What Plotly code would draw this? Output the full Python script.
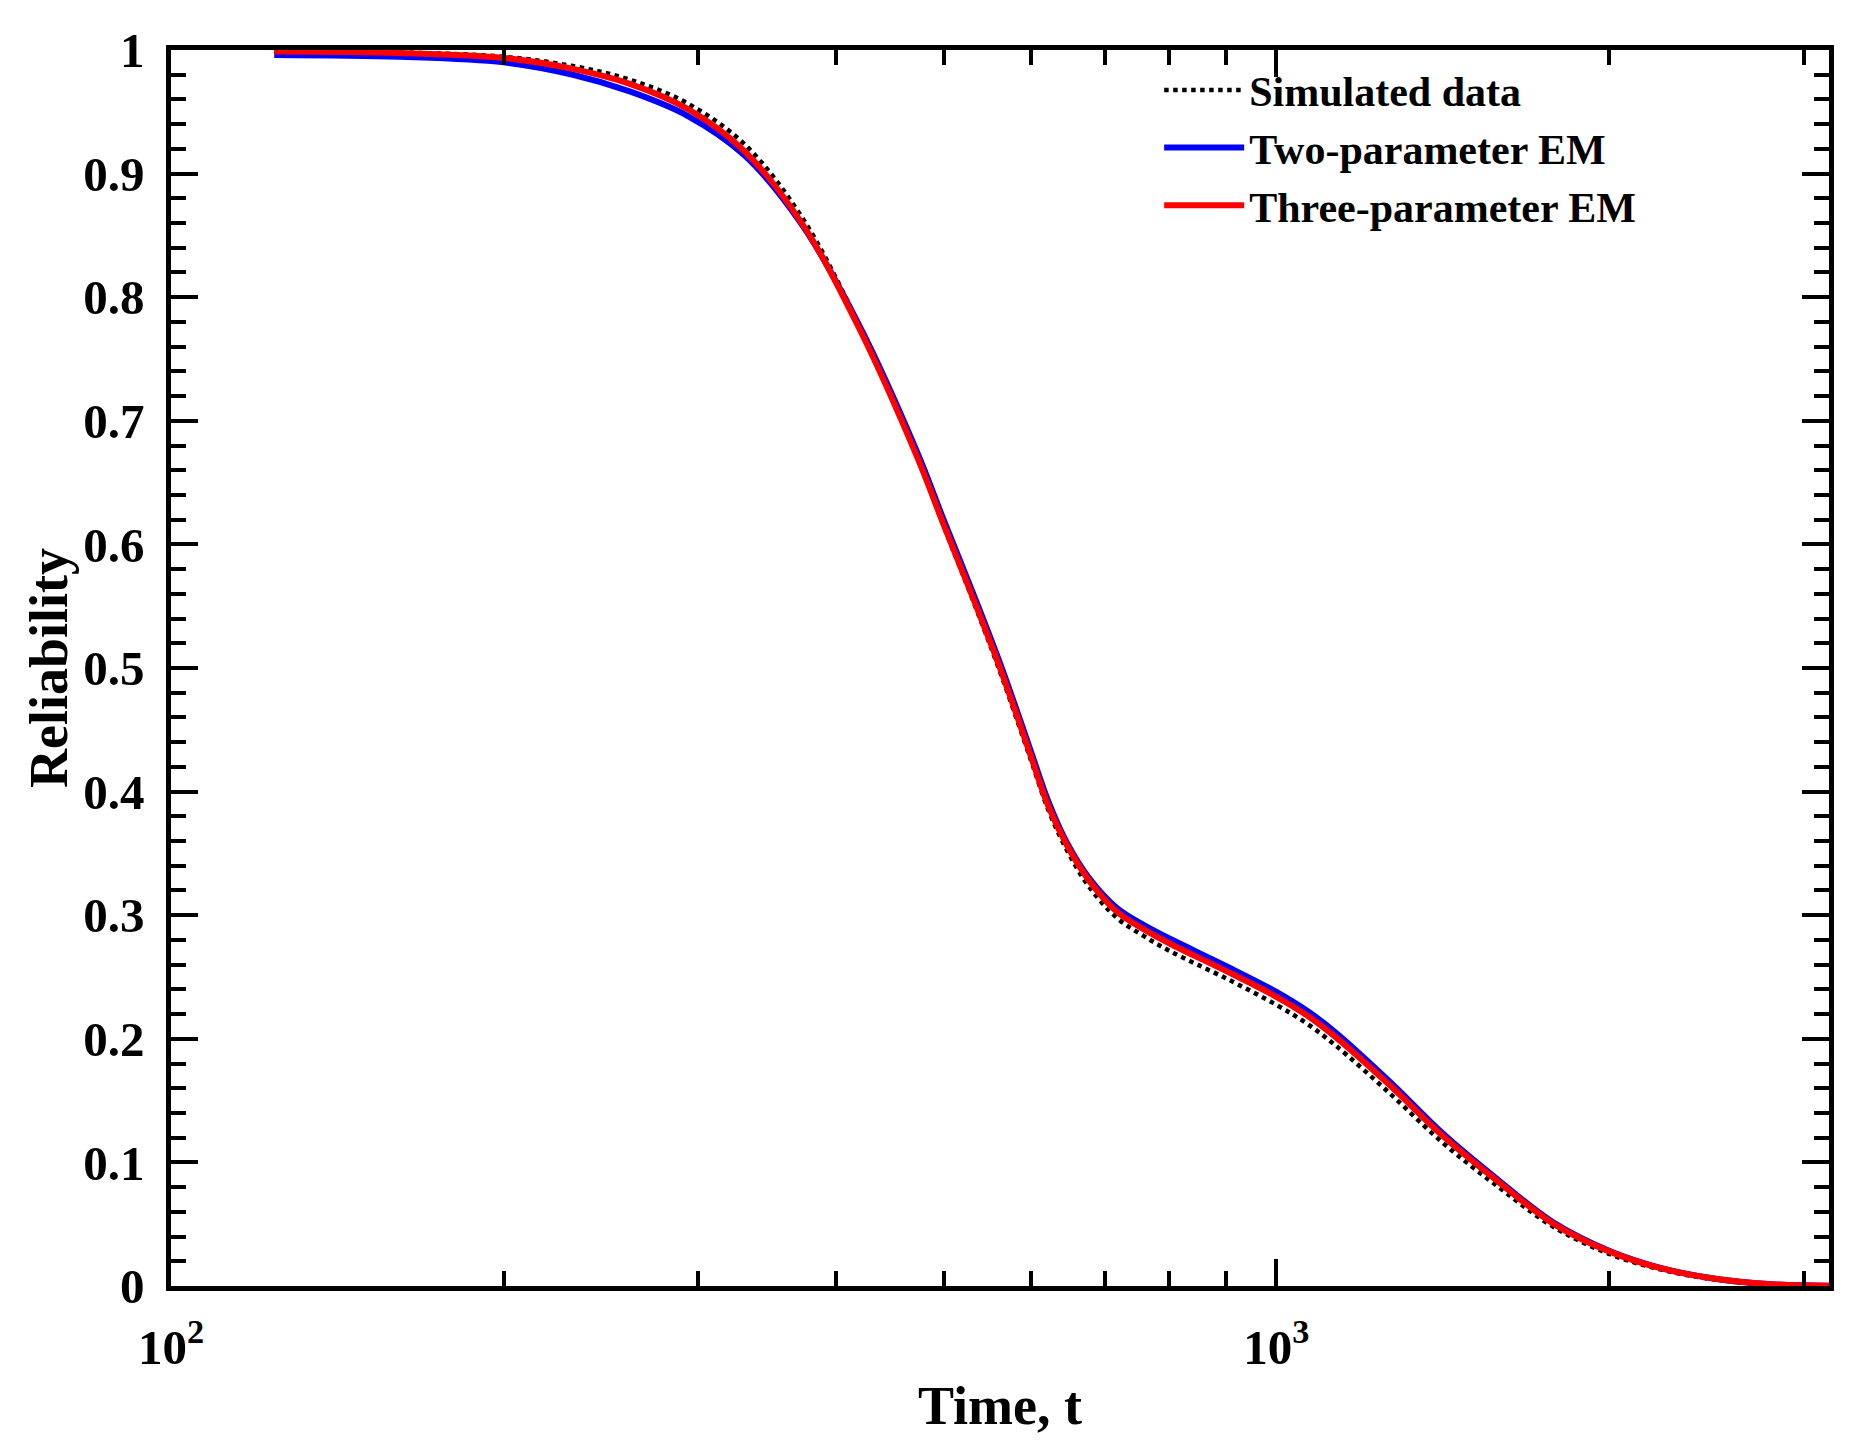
import plotly.graph_objects as go

# time grid (same grid for the three curves)
time_t = [124, 161, 200, 231, 260, 293, 330, 372, 419, 473, 500, 533, 565, 600,
          622, 647, 677, 717, 759, 803, 900, 1000, 1067, 1130, 1266, 1418, 1589,
          1780, 2000, 2235, 2504, 2806, 3162]

simulated = [0.9992, 0.998, 0.9945, 0.987, 0.976, 0.957, 0.924, 0.865, 0.778, 0.672,
             0.615, 0.552, 0.492, 0.425, 0.385, 0.352, 0.323, 0.298, 0.283, 0.2705,
             0.249, 0.2275, 0.212, 0.195, 0.156, 0.115, 0.080, 0.048, 0.026, 0.013,
             0.005, 0.0012, 0.0001]

two_param = [0.996, 0.9945, 0.990, 0.980, 0.9665, 0.947, 0.915, 0.859, 0.778, 0.675,
             0.620, 0.558, 0.499, 0.432, 0.392, 0.358, 0.330, 0.306, 0.292, 0.2805,
             0.259, 0.238, 0.2225, 0.2055, 0.1655, 0.1225, 0.0855, 0.0515, 0.0285,
             0.0142, 0.0057, 0.0014, 0.0002]

three_param = [0.9988, 0.9976, 0.9936, 0.9847, 0.9726, 0.9525, 0.9183, 0.860, 0.7755,
               0.671, 0.616, 0.554, 0.495, 0.428, 0.388, 0.356, 0.328, 0.303, 0.2885,
               0.2765, 0.255, 0.234, 0.2187, 0.2018, 0.1626, 0.1205, 0.0841, 0.0505,
               0.028, 0.014, 0.0056, 0.0014, 0.0002]

x_major = [100, 1000]
x_major_text = ["<b>10<sup>2</sup></b>", "<b>10<sup>3</sup></b>"]
x_minor = [200, 300, 400, 500, 600, 700, 800, 900, 2000, 3000]

FONT = "Liberation Serif"

fig = go.Figure()

fig.add_trace(go.Scatter(x=time_t, y=simulated, mode="lines", name="<b>Simulated data</b>",
                         line=dict(color="black", width=4.5, dash="dot", shape="spline")))
fig.add_trace(go.Scatter(x=time_t, y=two_param, mode="lines", name="<b>Two-parameter EM</b>",
                         line=dict(color="#0000ff", width=6, shape="spline")))
fig.add_trace(go.Scatter(x=time_t, y=three_param, mode="lines", name="<b>Three-parameter EM</b>",
                         line=dict(color="#ff0000", width=6, shape="spline")))

axis_common = dict(
    showline=True, linecolor="black", linewidth=4.5, mirror="ticks",
    ticks="inside", ticklen=27, tickwidth=3.5, tickcolor="black",
    showgrid=False, zeroline=False,
    tickfont=dict(family=FONT, size=49, color="black"),
)

fig.update_xaxes(
    type="log", range=[2, 3.5],
    tickmode="array", tickvals=x_major, ticktext=x_major_text,
    minor=dict(ticks="inside", ticklen=15, tickwidth=3.5, tickcolor="black",
               tickmode="array", tickvals=x_minor, showgrid=False),
    title=dict(text="<b>Time, t</b>", font=dict(family=FONT, size=54, color="black"), standoff=14),
    ticklabelstandoff=14,
    **axis_common,
)
fig.update_yaxes(
    range=[0, 1], tickmode="linear", tick0=0, dtick=0.1,
    tickprefix="<b>", ticksuffix="</b>",
    minor=dict(ticks="inside", ticklen=15, tickwidth=3.5, tickcolor="black",
               dtick=0.02, showgrid=False),
    title=dict(text="<b>Reliability</b>", font=dict(family=FONT, size=54, color="black"), standoff=0),
    ticklabelstandoff=12,
    **axis_common,
)

fig.update_layout(
    width=1857, height=1455,
    margin=dict(l=163, r=36, t=42, b=177),
    plot_bgcolor="white", paper_bgcolor="white",
    font=dict(family=FONT, color="black"),
    legend=dict(x=0.596, y=0.995, xanchor="left", yanchor="top",
                bgcolor="rgba(0,0,0,0)", font=dict(family=FONT, size=42, color="black"),
                itemwidth=80, tracegroupgap=0),
)

fig.write_html("out.html")
